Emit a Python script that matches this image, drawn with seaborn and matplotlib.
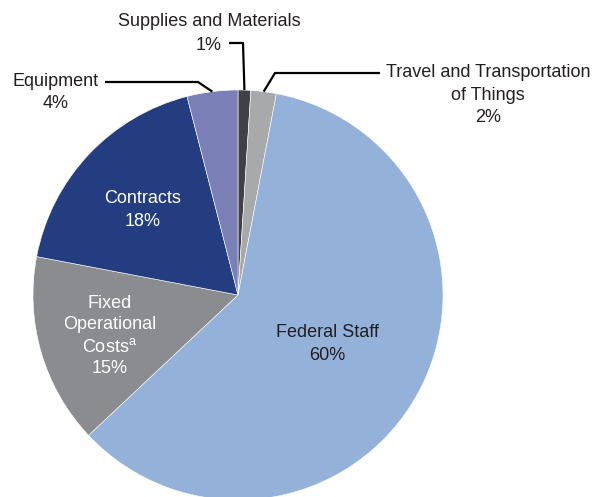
import matplotlib

matplotlib.use("Agg")

import matplotlib.pyplot as plt
import numpy as np
import seaborn as sns

# Data (share of spending, %), clockwise from 12 o'clock
categories = [
    "Supplies and Materials",
    "Travel and Transportation of Things",
    "Federal Staff",
    "Fixed Operational Costs",
    "Contracts",
    "Equipment",
]
shares = [1, 2, 60, 15, 18, 4]
slice_colors = ["#3f4143", "#a8a9ab", "#93b1d9", "#8b8c8f", "#243d80", "#7a80b5"]

sns.set_theme(style="white")
plt.rcParams["font.family"] = ["Liberation Sans", "DejaVu Sans"]

W, H = 595, 497
fig = plt.figure(figsize=(W / 100, H / 100), dpi=100)
ax = fig.add_axes([0, 0, 1, 1])

CX, CY, R = 238, 497 - 295, 205
wedges, _ = ax.pie(
    shares,
    colors=slice_colors,
    startangle=90,
    counterclock=False,
    center=(CX, CY),
    radius=R,
    wedgeprops=dict(edgecolor="white", linewidth=0.4),
)
ax.set_xlim(0, W)
ax.set_ylim(0, H)
ax.set_aspect("equal")
ax.axis("off")


def rim(i):
    w = wedges[i]
    a = np.deg2rad((w.theta1 + w.theta2) / 2)
    return CX + R * np.cos(a), CY + R * np.sin(a)


def py(y):
    return H - y


FS = 13
LS = 1.42
TXT = "#231f20"
LINE = dict(color="black", lw=1.6, solid_capstyle="butt")

# Inside labels
ax.text(327, py(344), f"Federal Staff\n{shares[2]}%", ha="center", va="center",
        fontsize=FS, color=TXT, linespacing=LS)
ax.text(143, py(210), f"Contracts\n{shares[4]}%", ha="center", va="center",
        fontsize=FS, color="white", linespacing=LS)
ax.text(110, py(336), f"Fixed\nOperational\nCosts$^\\mathregular{{a}}$\n{shares[3]}%",
        ha="center", va="center", fontsize=FS, color="white", linespacing=1.34)

# Supplies and Materials
ax.text(209, py(22), categories[0], ha="center", va="center", fontsize=FS, color=TXT)
ax.text(209, py(45), f"{shares[0]}%", ha="center", va="center", fontsize=FS, color=TXT)
x0, y0 = rim(0)
ax.plot([229, 243, x0], [py(43), py(43), y0], **LINE)

# Travel and Transportation of Things
ax.text(488, py(95), f"Travel and Transportation\nof Things\n{shares[1]}%",
        ha="center", va="center", fontsize=FS, color=TXT, linespacing=LS)
x1, y1 = rim(1)
ax.plot([x1, 275, 380], [y1, py(73), py(73)], **LINE)

# Equipment
ax.text(56, py(82), categories[5], ha="center", va="center", fontsize=FS, color=TXT)
ax.text(56, py(104), f"{shares[5]}%", ha="center", va="center", fontsize=FS, color=TXT)
x5, y5 = rim(5)
ax.plot([105, 198, x5], [py(82), py(82), y5], **LINE)

fig.savefig("out.png", dpi=100, facecolor="white")
